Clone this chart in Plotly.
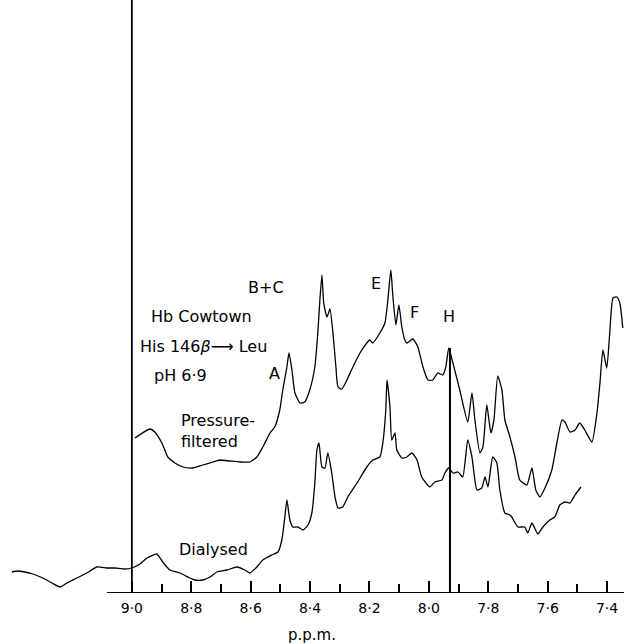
import plotly.graph_objects as go

# Pressure-filtered spectrum (chemical shift in p.p.m., intensity arbitrary units)
pf_ppm = [8.990, 8.939, 8.923, 8.899, 8.879, 8.855, 8.828, 8.795, 8.761, 8.727, 8.704, 8.670,
          8.636, 8.603, 8.579, 8.559, 8.535, 8.519, 8.502, 8.492, 8.478, 8.471, 8.461, 8.451,
          8.434, 8.418, 8.401, 8.384, 8.374, 8.367, 8.360, 8.354, 8.343, 8.333, 8.323, 8.313,
          8.306, 8.293, 8.276, 8.256, 8.232, 8.209, 8.199, 8.189, 8.165, 8.148, 8.138, 8.128,
          8.121, 8.111, 8.101, 8.091, 8.081, 8.074, 8.054, 8.037, 8.020, 8.003, 7.987, 7.970,
          7.953, 7.943, 7.933, 7.919, 7.896, 7.869, 7.855, 7.845, 7.828, 7.818, 7.805, 7.791,
          7.781, 7.768, 7.754, 7.744, 7.727, 7.710, 7.694, 7.670, 7.653, 7.640, 7.626, 7.609,
          7.586, 7.569, 7.552, 7.542, 7.525, 7.508, 7.492, 7.475, 7.451, 7.434, 7.424, 7.414,
          7.401, 7.391, 7.380, 7.367, 7.357, 7.347]
pf_int = [155, 164, 161, 150, 136, 130, 126, 125, 128, 131, 133, 132,
          131, 131, 136, 146, 160, 166, 183, 203, 226, 240, 223, 200,
          190, 191, 203, 226, 260, 293, 318, 290, 276, 284, 260, 226,
          206, 204, 213, 226, 240, 250, 253, 250, 260, 270, 293, 323,
          296, 268, 288, 266, 253, 250, 254, 246, 226, 213, 213, 220,
          218, 226, 245, 230, 203, 171, 200, 173, 140, 146, 188, 160,
          173, 217, 203, 173, 156, 136, 113, 108, 125, 103, 96, 105,
          123, 150, 173, 171, 161, 163, 170, 163, 151, 180, 210, 243,
          225, 260, 295, 296, 290, 265]

# Dialysed spectrum
dy_ppm = [9.404, 9.384, 9.360, 9.333, 9.300, 9.269, 9.242, 9.219, 9.185, 9.152, 9.118, 9.084,
          9.057, 9.024, 9.000, 8.973, 8.949, 8.916, 8.896, 8.872, 8.838, 8.805, 8.788, 8.761,
          8.737, 8.714, 8.680, 8.646, 8.620, 8.603, 8.579, 8.559, 8.529, 8.508, 8.495, 8.485,
          8.478, 8.468, 8.458, 8.441, 8.424, 8.407, 8.394, 8.384, 8.377, 8.370, 8.360, 8.350,
          8.340, 8.327, 8.316, 8.306, 8.290, 8.273, 8.242, 8.209, 8.189, 8.165, 8.155, 8.145,
          8.141, 8.131, 8.125, 8.114, 8.108, 8.091, 8.074, 8.057, 8.040, 8.024, 7.997, 7.980,
          7.956, 7.946, 7.933, 7.919, 7.902, 7.886, 7.869, 7.855, 7.838, 7.822, 7.811, 7.801,
          7.785, 7.771, 7.761, 7.744, 7.727, 7.721, 7.700, 7.677, 7.667, 7.653, 7.633, 7.616,
          7.593, 7.576, 7.559, 7.542, 7.525, 7.508, 7.488]
dy_int = [21, 22, 21, 19, 15, 10, 6, 10, 15, 20, 26, 25,
          25, 24, 25, 29, 35, 39, 31, 23, 20, 15, 13, 13,
          16, 21, 23, 26, 23, 20, 26, 33, 38, 41, 53, 76,
          93, 73, 66, 66, 63, 68, 80, 110, 143, 150, 126, 125,
          140, 120, 96, 85, 86, 96, 110, 126, 133, 136, 150, 183,
          213, 186, 153, 160, 143, 135, 136, 140, 133, 116, 106, 111,
          113, 120, 125, 120, 121, 116, 153, 136, 103, 105, 116, 106,
          136, 130, 103, 80, 78, 76, 66, 66, 60, 70, 59, 66,
          73, 76, 88, 91, 90, 98, 106]

major_ticks = [9.0, 8.8, 8.6, 8.4, 8.2, 8.0, 7.8, 7.6, 7.4]
major_labels = ["9·0", "8·8", "8·6", "8·4", "8·2", "8·0", "7·8", "7·6", "7·4"]
minor_ticks = [8.9, 8.7, 8.5, 8.3, 8.1, 7.9, 7.7, 7.5]

peak_labels = ["A", "B+C", "E", "F", "H"]
peak_ppm = [8.519, 8.549, 8.178, 8.047, 7.933]
peak_int = [220, 306, 310, 281, 277]

h_ppm = 7.929
h_top = 245

FONT = "DejaVu Sans, sans-serif"
line = dict(color="black", width=1.3, shape="spline", smoothing=0.5)

fig = go.Figure()
fig.add_trace(go.Scatter(x=pf_ppm, y=pf_int, mode="lines", line=line, hoverinfo="skip"))
fig.add_trace(go.Scatter(x=dy_ppm, y=dy_int, mode="lines", line=line, hoverinfo="skip"))

# axis baseline, reference line at 9.0 and H marker line
fig.add_shape(type="line", x0=9.084, x1=7.343, y0=0, y1=0, xref="x", yref="y",
              line=dict(color="black", width=1.8))
fig.add_shape(type="line", x0=9.0, x1=9.0, y0=0, y1=593, xref="x", yref="y",
              line=dict(color="black", width=1.8))
fig.add_shape(type="line", x0=h_ppm, x1=h_ppm, y0=0, y1=h_top, xref="x", yref="y",
              line=dict(color="black", width=2))

txt = dict(family=FONT, size=16, color="black")
for lab, px, py in zip(peak_labels, peak_ppm, peak_int):
    fig.add_annotation(x=px, y=py, text=lab, showarrow=False, font=txt, xref="x", yref="y")

fig.add_annotation(x=8.764, y=277, text="Hb Cowtown", showarrow=False, font=txt)
fig.add_annotation(x=8.759, y=247, text="His 146<i>β</i>⟶ Leu", showarrow=False, font=txt)
fig.add_annotation(x=8.835, y=218, text="pH 6·9", showarrow=False, font=txt)
fig.add_annotation(x=8.840, y=162, text="Pressure-<br>filtered", showarrow=False, font=txt,
                   xanchor="left", align="left")
fig.add_annotation(x=8.724, y=44, text="Dialysed", showarrow=False, font=txt)

fig.update_layout(
    width=624, height=644,
    margin=dict(l=0, r=0, t=0, b=51),
    paper_bgcolor="white", plot_bgcolor="white",
    showlegend=False,
    xaxis=dict(
        range=[9.444, 7.343], showgrid=False, zeroline=False, showline=False,
        automargin=False,
        tickvals=major_ticks, ticktext=major_labels,
        ticks="inside", ticklen=12, tickwidth=1.5, tickcolor="black",
        tickfont=dict(family=FONT, size=14, color="black"),
        ticklabelstandoff=5,
        minor=dict(tickvals=minor_ticks, ticks="inside", ticklen=9, tickwidth=1.5,
                   tickcolor="black", showgrid=False),
        title=dict(text="p.p.m.", font=dict(family=FONT, size=15, color="black"), standoff=22),
    ),
    yaxis=dict(range=[0, 593], visible=False),
)

fig.write_html("out.html", config={"displayModeBar": False},
               post_script="document.body.style.margin='0px';")
